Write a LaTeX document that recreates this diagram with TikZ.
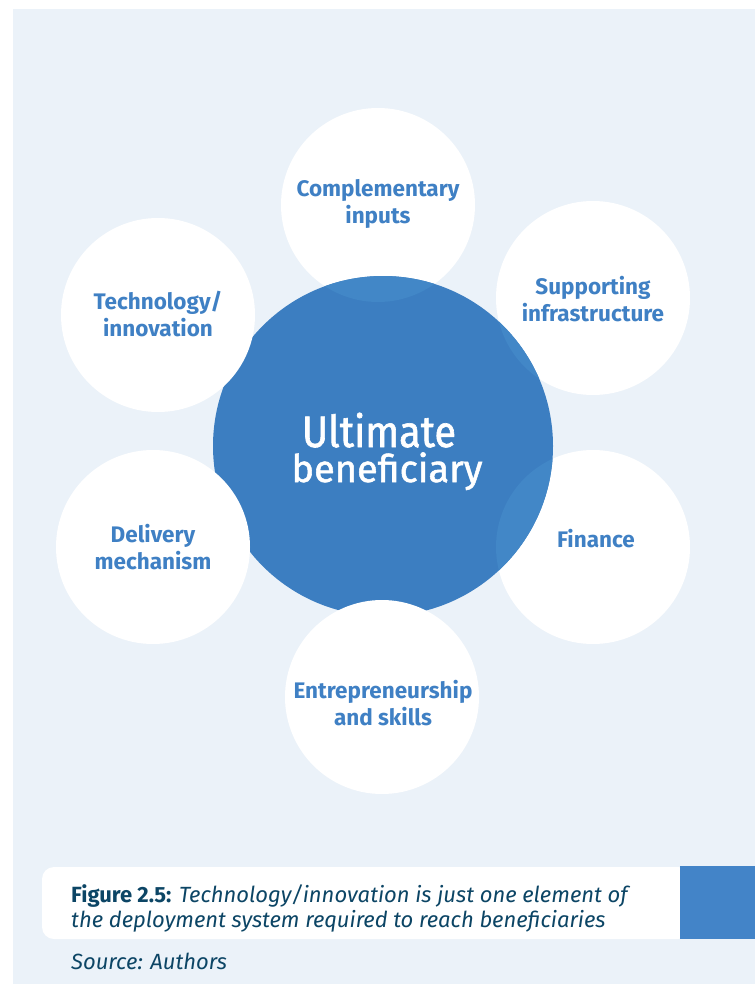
\documentclass[tikz,border=0pt]{standalone}
\usepackage{fontspec}
\setmainfont{Fira Sans}
\newfontfamily\hubfontwide{Fira Sans}[FakeStretch=0.9, FakeBold=1.4]
\newfontfamily\hubfont{Fira Sans}[FakeBold=1.4]
\definecolor{panel}{HTML}{EBF2F9}
\definecolor{hub}{HTML}{3C7EC1}
\definecolor{hublight}{HTML}{4287C7}
\definecolor{labelblue}{HTML}{3F80C4}
\definecolor{captext}{HTML}{0C4565}
\definecolor{tab}{HTML}{4384C8}
\tikzset{
  petal/.style={circle, fill=white, minimum size=194pt, inner sep=0pt},
  petallabel/.style={text=labelblue, align=center, inner sep=0pt,
    font=\bfseries\fontsize{22.5}{27}\selectfont},
  hubcircle/.style={circle, fill=hub, minimum size=340pt, inner sep=0pt},
  hubline/.style={anchor=base, text=white, inner sep=0pt},
  captionline/.style={anchor=base west, inner sep=0pt, text=captext,
    font=\fontsize{22}{26}\selectfont}
}
\begin{document}
\begin{tikzpicture}[x=1pt,y=-1pt]
\useasboundingbox (0,0) rectangle (755,984);
\fill[white] (0,0) rectangle (755,984);
\fill[panel] (13,9) rectangle (755,984);

% petals lying beneath the hub
\node[petal] (comp) at (378,205) {};
\node[petal] (supp) at (593,298) {};
\node[petal] (fin)  at (593,547) {};

% central hub, lighter where it covers the petals behind it
\node[hubcircle] (hub) at (383,446) {};
\begin{scope}
  \clip (hub.center) circle (170);
  \fill[hublight] (comp.center) circle (97);
  \fill[hublight] (supp.center) circle (97);
  \fill[hublight] (fin.center) circle (97);
\end{scope}
\node[hubline, font=\hubfontwide\fontsize{44}{44}\selectfont] (hubl1) at (379,447) {Ultimate};
\node[hubline, font=\hubfont\fontsize{38}{38}\selectfont] (hubl2) at (387,482) {beneficiary};

% petals lying on top of the hub
\node[petal] (tech)  at (158,315) {};
\node[petal] (deliv) at (153,547) {};
\node[petal] (entre) at (382,697) {};

% petal labels
\node[petallabel] (compl)  at (378,204) {Complementary\\inputs};
\node[petallabel] (suppl)  at (593,299) {Supporting\\infrastructure};
\node[petallabel] (finl)   at (596,539) {Finance};
\node[petallabel] (techl)  at (158,314) {Technology/\\innovation};
\node[petallabel] (delivl) at (153,547) {Delivery\\mechanism};
\node[petallabel] (entrel) at (383,703) {Entrepreneurship\\and skills};

% caption strip
\fill[white, rounded corners=12pt] (42,867) -- (42,939) -- (690,939) -- (690,867) -- cycle;
\node[fill=tab, inner sep=0pt, minimum width=75pt, minimum height=73pt, anchor=north west] (tab) at (680,866) {};
\node[captionline] (cap1) at (71,902) {\textbf{Figure 2.5:} \itshape Technology/innovation is just one element of};
\node[captionline] (cap2) at (71,927) {\itshape the deployment system required to reach beneficiaries};
\node[captionline] (src) at (71,969) {\itshape Source: Authors};
\end{tikzpicture}
\end{document}
